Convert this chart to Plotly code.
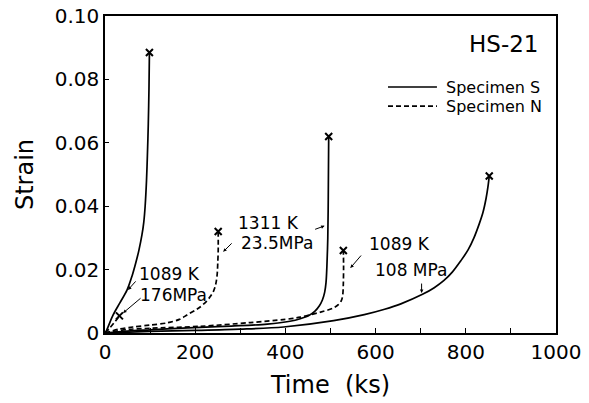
import plotly.graph_objects as go

# Specimen S, 1089 K / 176 MPa (solid)
s176_t = [0, 4, 18, 33, 49, 60, 68, 75, 82, 86, 89, 92, 94, 96, 97.5, 98.5]
s176_e = [0, 0.001, 0.0057, 0.0095, 0.0136, 0.018, 0.022, 0.026, 0.031, 0.035, 0.040, 0.048, 0.056, 0.066, 0.077, 0.0885]
# Specimen N, 1089 K / 176 MPa (dashed)
n176_t = [0, 10, 20, 32]
n176_e = [0, 0.0015, 0.0032, 0.0054]
# Specimen S, 1311 K / 23.5 MPa (solid)
s235_t = [0, 50, 100, 150, 211, 280, 360, 410, 433, 452, 465, 475, 482, 487, 490, 492, 494, 495, 496]
s235_e = [0, 0.0006, 0.001, 0.0014, 0.0018, 0.0022, 0.0028, 0.0037, 0.0045, 0.0055, 0.0068, 0.0085, 0.0104, 0.0128, 0.0158, 0.021, 0.030, 0.042, 0.062]
# Specimen N, 1311 K / 23.5 MPa (dashed)
n235_t = [0, 30, 62, 100, 138, 165, 182, 200, 211, 225, 233, 240, 244, 247, 249, 250, 251, 251]
n235_e = [0, 0.0012, 0.0019, 0.0025, 0.0032, 0.0043, 0.0057, 0.0072, 0.0082, 0.0100, 0.0114, 0.013, 0.0145, 0.0165, 0.019, 0.022, 0.026, 0.032]
# Specimen S, 1089 K / 108 MPa (solid)
s108_t = [0, 100, 200, 300, 396, 507, 575, 620, 656, 704, 730, 751, 770, 789, 805, 818, 830, 838, 845, 849, 852]
s108_e = [0, 0.0005, 0.0008, 0.0012, 0.0019, 0.0039, 0.0058, 0.0075, 0.0092, 0.0122, 0.0143, 0.0165, 0.0192, 0.0228, 0.0262, 0.030, 0.0345, 0.038, 0.0425, 0.046, 0.0495]
# Specimen N, 1089 K / 108 MPa (dashed)
n108_t = [0, 50, 100, 211, 322, 400, 433, 478, 505, 518, 524, 527, 528.5, 529, 528.5]
n108_e = [0, 0.0011, 0.0015, 0.0021, 0.0033, 0.0043, 0.005, 0.0066, 0.0078, 0.0090, 0.0102, 0.0118, 0.0158, 0.021, 0.026]

x_ticks = [0, 200, 400, 600, 800, 1000]
x_ticktext = ["0", "200", "400", "600", "800", "1000"]
y_ticks = [0, 0.02, 0.04, 0.06, 0.08, 0.10]
y_ticktext = ["0", "0.02", "0.04", "0.06", "0.08", "0.10"]
legend_names = ["Specimen S", "Specimen N"]

FONT = "DejaVu Sans"
DASH = "5px,3px"
fig = go.Figure()

series = [
    (s176_t, s176_e, "solid"),
    (n176_t, n176_e, DASH),
    (s235_t, s235_e, "solid"),
    (n235_t, n235_e, DASH),
    (s108_t, s108_e, "solid"),
    (n108_t, n108_e, DASH),
]
for t, e, dash in series:
    fig.add_trace(go.Scatter(
        x=t, y=e, mode="lines", showlegend=False,
        line=dict(color="black", width=1.7, dash=dash, shape="spline", smoothing=0.9),
    ))

# rupture points (last point of each curve)
rup_t = [s[0][-1] for s in series]
rup_e = [s[1][-1] for s in series]
fig.add_trace(go.Scatter(
    x=rup_t, y=rup_e, mode="markers", showlegend=False,
    marker=dict(symbol="x-thin", size=7, line=dict(color="black", width=2)),
))

labels = [
    ("1089 K", 144, 0.0186),
    ("176MPa", 151, 0.0120),
    ("1311 K", 362, 0.0348),
    ("23.5MPa", 382, 0.0284),
    ("1089 K", 653, 0.0281),
    ("108 MPa", 678, 0.0199),
]
for txt, x, y in labels:
    fig.add_annotation(x=x, y=y, text=txt, showarrow=False,
                       font=dict(family=FONT, size=17, color="black"))
fig.add_annotation(x=884, y=0.0913, text="HS-21", showarrow=False,
                   font=dict(family=FONT, size=23, color="black"))

arrows = [
    (51, 0.0136, 9, -10),
    (40, 0.0063, 19, -16),
    (262, 0.0256, 10, -10),
    (487, 0.0338, -11, 4),
    (544, 0.0205, 12, -14),
    (702, 0.0126, 0, -11),
]
for x, y, ax, ay in arrows:
    fig.add_annotation(x=x, y=y, ax=ax, ay=ay, text="", showarrow=True,
                       arrowhead=2, arrowsize=0.7, arrowwidth=1, arrowcolor="black")

# legend drawn as line samples + labels
for i, (name, dash) in enumerate(zip(legend_names, ["solid", DASH])):
    ly = 0.776 - i * 0.060
    fig.add_shape(type="line", xref="paper", yref="paper", x0=0.6275, x1=0.736, y0=ly, y1=ly,
                  line=dict(color="black", width=1.7, dash=dash))
    fig.add_annotation(xref="paper", yref="paper", x=0.752, y=ly, xanchor="left", yanchor="middle",
                       text=name, showarrow=False, font=dict(family=FONT, size=16, color="black"))

fig.update_layout(
    width=589, height=403, autosize=False,
    margin=dict(l=105, r=33, t=16, b=70, autoexpand=False),
    paper_bgcolor="white", plot_bgcolor="white",
    font=dict(family=FONT, color="black"),
    showlegend=False,
    xaxis=dict(range=[0, 1000], tickvals=x_ticks, ticktext=x_ticktext, automargin=False,
               ticks="inside", ticklen=5, tickwidth=1.2, tickcolor="black",
               minor=dict(dtick=100, ticks="inside", ticklen=5, tickcolor="black", tickwidth=1.2),
               showline=True, linecolor="black", linewidth=1.5, mirror=True,
               showgrid=False, zeroline=False,
               tickfont=dict(size=20, family=FONT),
               title=dict(text="Time\u00a0\u00a0(ks)", font=dict(size=24, family=FONT), standoff=13)),
    yaxis=dict(range=[0, 0.10], tickvals=y_ticks, ticktext=y_ticktext, automargin=False,
               ticks="inside", ticklen=4, tickwidth=1.2, tickcolor="black",
               showline=True, linecolor="black", linewidth=1.5, mirror=True,
               showgrid=False, zeroline=False,
               tickfont=dict(size=20, family=FONT),
               title=dict(text="Strain", font=dict(size=24, family=FONT), standoff=14)),
)

fig.write_html("out.html")
